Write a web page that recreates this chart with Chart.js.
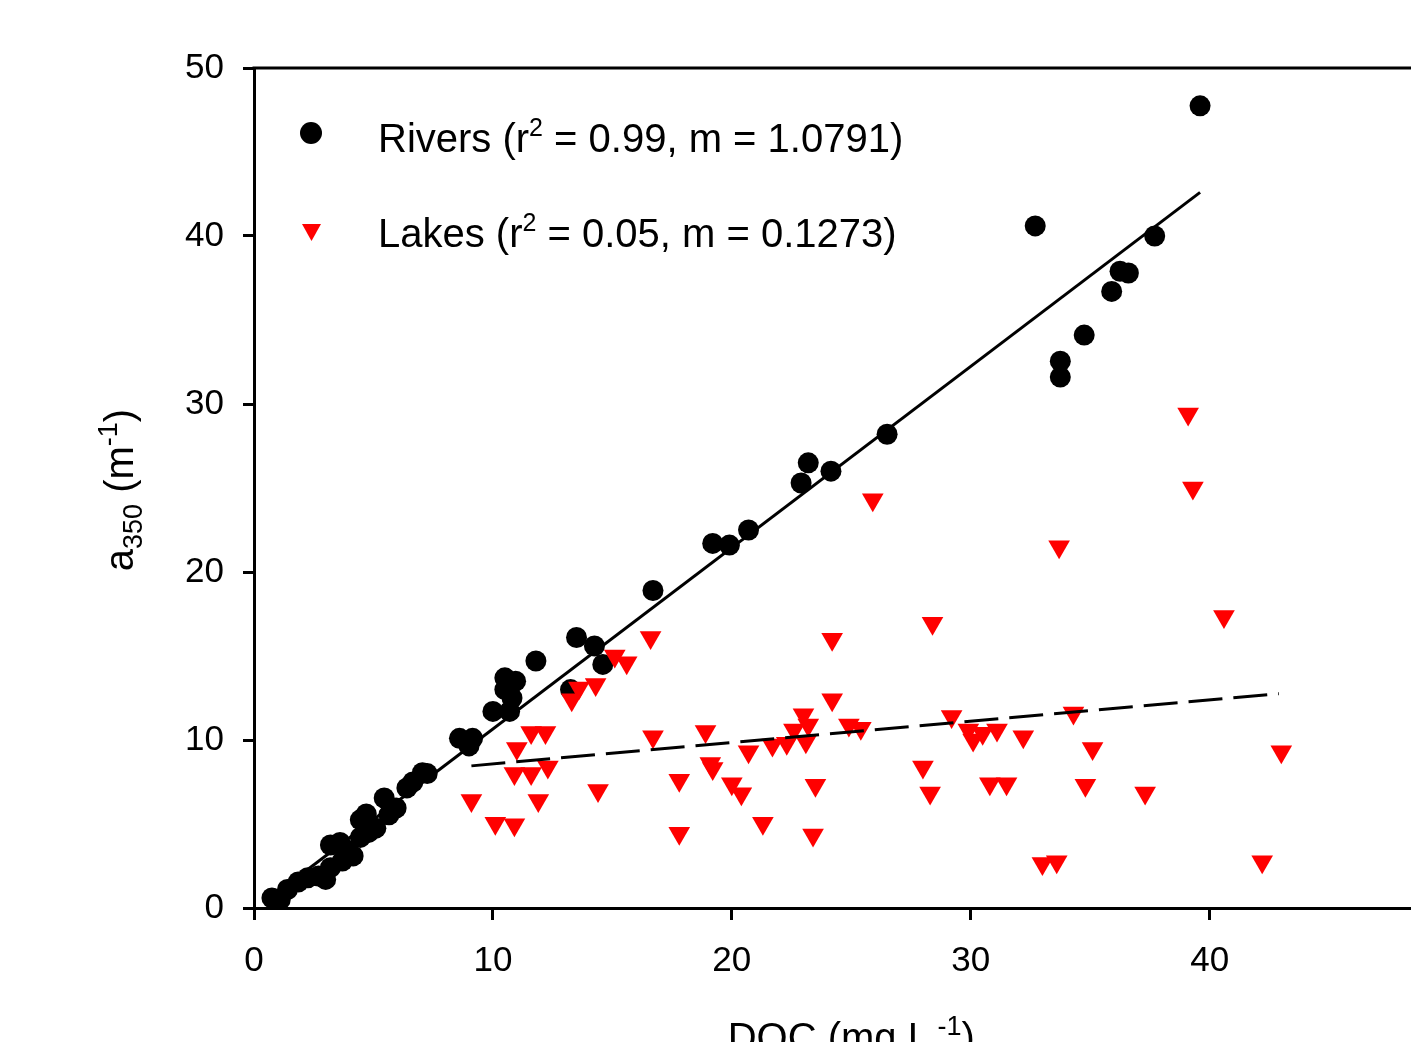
<!DOCTYPE html>
<html>
<head>
<meta charset="utf-8">
<title>a350 vs DOC</title>
<script src="https://cdn.jsdelivr.net/npm/chart.js@4/dist/chart.umd.min.js"></script>
<style>
  html, body { margin: 0; padding: 0; background: #fff; overflow: hidden; }
  canvas { display: block; }
</style>
</head>
<body>
<canvas id="scatterChart" width="1488" height="1090"></canvas>
<script>
// values
const riversDOC = [0.75, 1.1, 1.4, 1.85, 2.25, 2.7, 3.0, 3.2, 3.7, 3.2, 3.6, 3.85, 4.15, 4.45, 4.45, 4.7, 4.8, 5.1, 5.45, 5.65,
  5.95, 6.4, 6.65, 7.05, 7.25, 8.6, 9.0, 9.15, 10.0, 10.7, 10.8, 10.5, 10.5, 10.95, 11.8, 13.25, 13.5, 14.25, 14.6, 16.7,
  19.2, 19.9, 20.7, 22.9, 23.2, 24.15, 26.5, 32.7, 33.75, 33.75, 34.75, 35.9, 36.25, 36.6, 37.7, 39.6];
const riversA350 = [0.6, 0.5, 1.1, 1.55, 1.8, 1.9, 1.7, 2.4, 2.8, 3.75, 3.9, 3.45, 3.1, 5.25, 4.2, 5.6, 4.5, 4.75, 6.55, 5.55,
  5.95, 7.15, 7.5, 8.05, 8.0, 10.1, 9.65, 10.1, 11.7, 11.7, 12.5, 13.0, 13.7, 13.5, 14.7, 13.0, 16.1, 15.6, 14.5, 18.9,
  21.7, 21.6, 22.5, 25.3, 26.5, 26.0, 28.2, 40.6, 32.55, 31.6, 34.1, 36.7, 37.9, 37.8, 40.0, 47.75];

const lakesDOC = [9.1, 10.1, 10.9, 11.0, 10.9, 11.6, 12.3, 11.9, 11.6, 12.2, 14.4, 13.3, 13.6, 14.3, 15.1, 15.6, 16.6, 16.7,
  17.8, 17.8, 18.9, 19.1, 19.2, 20.0, 20.4, 20.7, 21.3, 21.7, 22.3, 22.6, 23.0, 23.2, 23.1, 23.5, 23.4, 24.2, 24.2, 24.9,
  25.4, 25.9, 28.0, 28.3, 28.4, 29.2, 29.9, 30.1, 30.5, 31.1, 30.8, 31.5, 32.2, 33.0, 33.6, 33.7, 34.3, 34.8, 35.1, 37.3,
  39.1, 39.3, 40.6, 42.2, 43.0];
const lakesA350 = [6.4, 5.05, 4.95, 9.5, 8.0, 8.0, 8.4, 6.4, 10.45, 10.45, 7.0, 12.4, 13.1, 13.3, 15.0, 14.6, 16.1, 10.2,
  7.6, 4.45, 10.5, 8.6, 8.3, 7.4, 6.8, 9.3, 5.05, 9.7, 9.8, 10.6, 11.5, 10.9, 9.9, 7.3, 4.35, 16.0, 12.4, 10.9,
  10.7, 24.3, 8.4, 6.85, 16.95, 11.4, 10.6, 10.0, 10.4, 10.6, 7.4, 7.4, 10.2, 2.65, 2.75, 21.5, 11.6, 7.3, 9.5, 6.85,
  29.4, 25.0, 17.35, 2.75, 9.3];

// regression line end points
const riversFitDOC = [0.8, 39.6];
const riversFitA350 = [0.73, 42.6];
const lakesFitDOC = [9.1, 42.9];
const lakesFitA350 = [8.46, 12.76];

const xTicks = [0, 10, 20, 30, 40, 50];
const yTicks = [0, 10, 20, 30, 40, 50];

const FONT = '"Liberation Sans", Arial, sans-serif';

function pairs(xs, ys) {
  return xs.map((x, i) => ({ x: x, y: ys[i] }));
}

// draws a run of text pieces with super/subscripts
function richText(ctx, parts, x, y, align) {
  let total = 0;
  parts.forEach(p => {
    ctx.font = p.size + 'px ' + FONT;
    p.w = ctx.measureText(p.t).width;
    total += p.w;
  });
  let cx = align === 'center' ? x - total / 2 : x;
  ctx.textAlign = 'left';
  ctx.textBaseline = 'alphabetic';
  parts.forEach(p => {
    ctx.font = p.size + 'px ' + FONT;
    ctx.fillText(p.t, cx, y + (p.dy || 0));
    cx += p.w;
  });
}

const extras = {
  id: 'extras',
  afterDraw(chart) {
    const ctx = chart.ctx;
    const a = chart.chartArea;
    ctx.save();
    // top and right frame lines
    ctx.strokeStyle = '#000';
    ctx.lineWidth = 3;
    ctx.beginPath();
    ctx.moveTo(a.left - 1.5, a.top);
    ctx.lineTo(a.right, a.top);
    ctx.lineTo(a.right, a.bottom);
    ctx.stroke();

    // legend
    ctx.fillStyle = '#000';
    ctx.beginPath();
    ctx.arc(311, 133, 11, 0, Math.PI * 2);
    ctx.fill();
    ctx.fillStyle = '#ff0000';
    ctx.beginPath();
    ctx.moveTo(302, 224);
    ctx.lineTo(321, 224);
    ctx.lineTo(311.5, 241);
    ctx.closePath();
    ctx.fill();

    ctx.fillStyle = '#000';
    richText(ctx, [
      { t: 'Rivers (r', size: 40 },
      { t: '2', size: 25, dy: -16 },
      { t: ' = 0.99, m = 1.0791)', size: 40 }
    ], 378, 152, 'left');
    richText(ctx, [
      { t: 'Lakes (r', size: 40 },
      { t: '2', size: 25, dy: -16 },
      { t: ' = 0.05, m = 0.1273)', size: 40 }
    ], 378, 247, 'left');

    // x axis title
    richText(ctx, [
      { t: 'DOC (mg L', size: 40 },
      { t: ' -1', size: 27, dy: -16 },
      { t: ')', size: 40 }
    ], (a.left + a.right) / 2, 1051, 'center');

    // y axis title
    ctx.translate(133, 490);
    ctx.rotate(-Math.PI / 2);
    richText(ctx, [
      { t: 'a', size: 40 },
      { t: '350', size: 27, dy: 9 },
      { t: ' (m', size: 40 },
      { t: '-1', size: 27, dy: -16 },
      { t: ')', size: 40 }
    ], 0, 0, 'center');
    ctx.restore();
  }
};

const ctxEl = document.getElementById('scatterChart');

new Chart(ctxEl, {
  type: 'scatter',
  data: {
    datasets: [
      {
        label: 'Rivers fit',
        data: pairs(riversFitDOC, riversFitA350),
        showLine: true,
        borderColor: '#000',
        borderWidth: 3,
        pointRadius: 0,
        order: 0
      },
      {
        label: 'Lakes fit',
        data: pairs(lakesFitDOC, lakesFitA350),
        showLine: true,
        borderColor: '#000',
        borderWidth: 3,
        borderDash: [34, 11],
        pointRadius: 0,
        order: 0
      },
      {
        label: 'Lakes',
        data: pairs(lakesDOC, lakesA350),
        pointStyle: 'triangle',
        rotation: 180,
        radius: 12.5,
        backgroundColor: '#ff0000',
        borderWidth: 0,
        order: 1
      },
      {
        label: 'Rivers',
        data: pairs(riversDOC, riversA350),
        pointStyle: 'circle',
        radius: 10.5,
        backgroundColor: '#000',
        borderWidth: 0,
        order: 2
      }
    ]
  },
  options: {
    responsive: false,
    animation: false,
    events: [],
    layout: {
      padding: { top: 68, right: 4, left: 0, bottom: 0 }
    },
    plugins: {
      legend: { display: false },
      tooltip: { enabled: false },
      title: { display: false }
    },
    scales: {
      x: {
        type: 'linear',
        min: 0,
        max: 50,
        afterBuildTicks: s => { s.ticks = xTicks.map(v => ({ value: v })); },
        afterFit: s => { s.height = 182; },
        border: { display: true, color: '#000', width: 3 },
        grid: { drawOnChartArea: false, drawTicks: true, tickLength: 12, tickWidth: 3, tickColor: '#000' },
        ticks: { color: '#000', padding: 20, maxRotation: 0, font: { family: FONT, size: 35 } }
      },
      y: {
        type: 'linear',
        min: 0,
        max: 50,
        afterBuildTicks: s => { s.ticks = yTicks.map(v => ({ value: v })); },
        afterFit: s => { s.width = 254; },
        border: { display: true, color: '#000', width: 3 },
        grid: { drawOnChartArea: false, drawTicks: true, tickLength: 11, tickWidth: 3, tickColor: '#000' },
        ticks: { color: '#000', padding: 19, font: { family: FONT, size: 35 } }
      }
    }
  },
  plugins: [extras]
});
</script>
</body>
</html>
